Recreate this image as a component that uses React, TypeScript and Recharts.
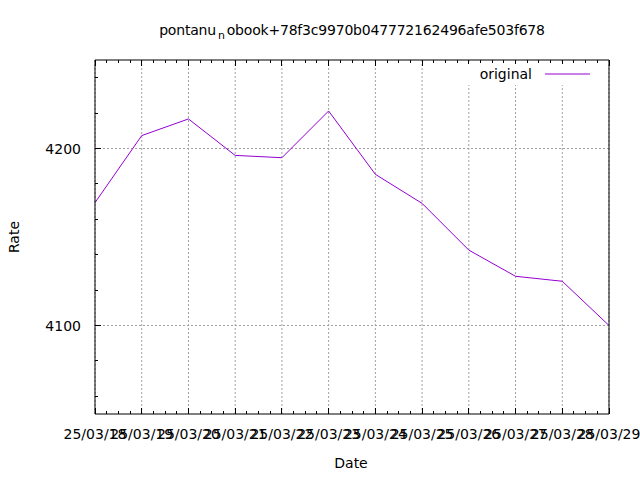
import React from "react";
import { LineChart, Line, XAxis, YAxis, CartesianGrid, Legend } from "recharts";

const dates = [
  "25/03/18",
  "25/03/19",
  "25/03/20",
  "25/03/21",
  "25/03/22",
  "25/03/23",
  "25/03/24",
  "25/03/25",
  "25/03/26",
  "25/03/27",
  "25/03/28",
  "25/03/29",
];

const rates = [
  4169.4, 4207.3, 4216.7, 4196.1, 4194.8, 4221.2, 4185.4, 4169.0, 4142.6, 4127.8,
  4125.0, 4100.0,
];

const yTicks = [4060, 4080, 4100, 4120, 4140, 4160, 4180, 4200, 4220, 4240];
const yMajor = [4100, 4200];
const xMajor = dates.map((_, i) => i);
// four minor steps per day, like gnuplot's time axis
const xTicks = xMajor.flatMap((i) =>
  i < dates.length - 1 ? [i, i + 0.25, i + 0.5, i + 0.75] : [i]
);

const FONT = "'DejaVu Sans', sans-serif";
const LINE_COLOR = "#9400d3";

const data = dates.map((d, i) => ({ idx: i, date: d, rate: rates[i] }));

function BottomTick(props: any) {
  const { x, y, payload } = props;
  const major = Number.isInteger(payload.value);
  return (
    <g>
      <line x1={x} x2={x} y1={y} y2={y - (major ? 6 : 3)} stroke="#000" shapeRendering="crispEdges" />
      {major && (
        <text x={x} y={y + 25} textAnchor="middle" fontSize={14} fontFamily={FONT} fill="#000">
          {dates[payload.value]}
        </text>
      )}
    </g>
  );
}

function TopTick(props: any) {
  const { x, y, payload } = props;
  const major = Number.isInteger(payload.value);
  return <line x1={x} x2={x} y1={y} y2={y + (major ? 6 : 3)} stroke="#000" shapeRendering="crispEdges" />;
}

function LeftTick(props: any) {
  const { x, y, payload } = props;
  const major = yMajor.includes(payload.value);
  return (
    <g>
      <line x1={x} x2={x + (major ? 6 : 3)} y1={y} y2={y} stroke="#000" shapeRendering="crispEdges" />
      {major && (
        <text x={x - 14} y={y + 5} textAnchor="end" fontSize={14} fontFamily={FONT} fill="#000">
          {payload.value}
        </text>
      )}
    </g>
  );
}

function RightTick(props: any) {
  const { x, y, payload } = props;
  const major = yMajor.includes(payload.value);
  return <line x1={x} x2={x - (major ? 6 : 3)} y1={y} y2={y} stroke="#000" shapeRendering="crispEdges" />;
}

function KeyBox() {
  return (
    <svg width={136} height={21} style={{ display: "block", background: "#fff" }}>
      <text x={66} y={15} textAnchor="end" fontSize={14} fontFamily={FONT} fill="#000">
        original
      </text>
      <line x1={79} x2={124} y1={10} y2={10} stroke={LINE_COLOR} strokeWidth={1} />
    </svg>
  );
}

export default function App() {
  return (
    <div style={{ position: "absolute", left: 0, top: 0, width: 640, height: 480, background: "#fff", fontFamily: FONT }}>
      <LineChart width={640} height={480} data={data} margin={{ top: 50, right: 21, bottom: 36, left: 0 }}>
        <CartesianGrid
          xAxisId="x"
          yAxisId="y"
          stroke="#a0a0a0"
          strokeDasharray="2 2"
          horizontalValues={yMajor}
          verticalValues={xMajor}
        />
        <XAxis
          xAxisId="x"
          dataKey="idx"
          type="number"
          domain={[0, dates.length - 1]}
          ticks={xTicks}
          interval={0}
          height={30}
          tickSize={0}
          tickMargin={0}
          tickLine={false}
          axisLine={{ stroke: "#000" }}
          tick={<BottomTick />}
        />
        <XAxis
          xAxisId="xt"
          orientation="top"
          dataKey="idx"
          type="number"
          domain={[0, dates.length - 1]}
          ticks={xTicks}
          interval={0}
          height={10}
          tickSize={0}
          tickMargin={0}
          tickLine={false}
          axisLine={{ stroke: "#000" }}
          tick={<TopTick />}
        />
        <YAxis
          yAxisId="y"
          type="number"
          domain={[4050, 4250]}
          ticks={yTicks}
          interval={0}
          width={95}
          tickSize={0}
          tickMargin={0}
          tickLine={false}
          axisLine={{ stroke: "#000" }}
          tick={<LeftTick />}
        />
        <YAxis
          yAxisId="yr"
          orientation="right"
          type="number"
          domain={[4050, 4250]}
          ticks={yTicks}
          interval={0}
          width={10}
          tickSize={0}
          tickMargin={0}
          tickLine={false}
          axisLine={{ stroke: "#000" }}
          tick={<RightTick />}
        />
        <Legend
          layout="horizontal"
          align="center"
          verticalAlign="middle"
          content={<KeyBox />}
          wrapperStyle={{ position: "absolute", left: 466, top: 64, width: 136, height: 21 }}
        />
        <Line
          xAxisId="x"
          yAxisId="y"
          type="linear"
          dataKey="rate"
          name="original"
          stroke={LINE_COLOR}
          strokeWidth={1}
          dot={false}
          isAnimationActive={false}
        />
      </LineChart>
      <div
        style={{
          position: "absolute",
          left: 0,
          width: 704,
          top: 23,
          textAlign: "center",
          fontSize: 14,
          lineHeight: "14px",
          whiteSpace: "nowrap",
          letterSpacing: -0.2,
        }}
      >
        pontanu
        <span style={{ fontSize: 11, position: "relative", top: 4, margin: "0 2px" }}>n</span>
        obook+78f3c9970b047772162496afe503f678
      </div>
      <div style={{ position: "absolute", left: 0, width: 702, top: 456, textAlign: "center", fontSize: 14, lineHeight: "14px" }}>
        Date
      </div>
      <div
        style={{
          position: "absolute",
          left: 14,
          top: 237,
          fontSize: 14,
          lineHeight: "14px",
          transform: "translate(-50%, -50%) rotate(-90deg)",
          transformOrigin: "center",
          whiteSpace: "nowrap",
        }}
      >
        Rate
      </div>
    </div>
  );
}
